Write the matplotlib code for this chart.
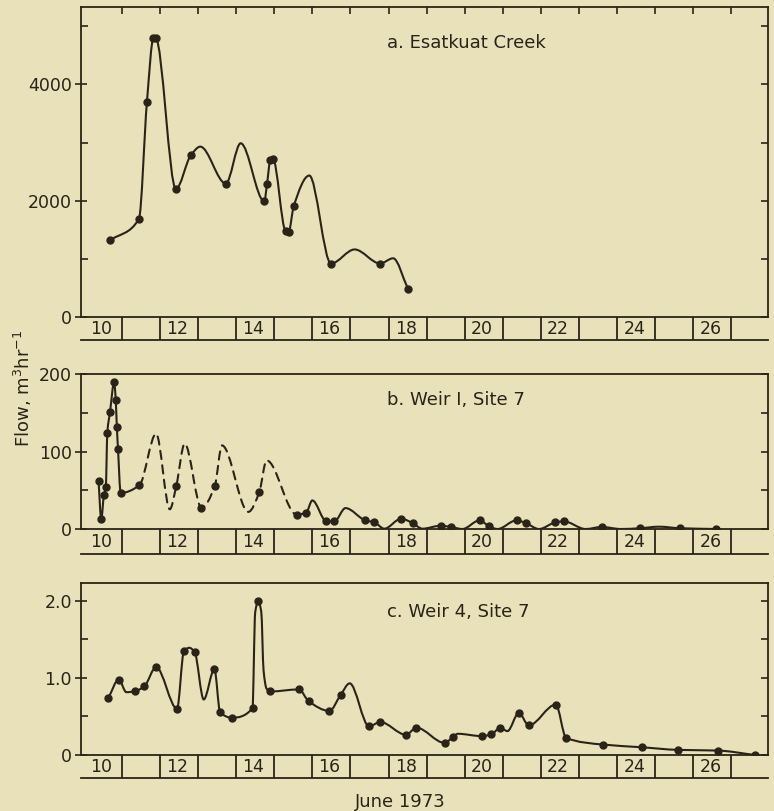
import numpy as np
import matplotlib
matplotlib.use("Agg")
import matplotlib.pyplot as plt
from matplotlib.path import Path
from matplotlib.patches import PathPatch
from matplotlib.ticker import MultipleLocator, FixedLocator, FixedFormatter

# ---- values: day of June 1973 -> flow (m3/hr) ----
# a. Esatkuat Creek, sampled points
a_obs_day = [10.69, 11.45, 11.66, 11.83, 11.89, 12.42, 12.81, 13.73, 14.74, 14.81,
             14.90, 14.97, 15.30, 15.38, 15.51, 16.49, 17.78, 18.51]
a_obs_flow = [1318, 1688, 3705, 4790, 4790, 2202, 2780, 2295, 1988, 2283,
              2700, 2710, 1480, 1470, 1902, 919, 920, 485]
# crests of the drawn trace with no sample on them
a_crest_day = [13.06, 14.12, 15.92, 17.11, 18.12]
a_crest_flow = [2930, 2988, 2433, 1162, 1010]

# b. Weir 1, Site 7
b_obs_day = [10.39, 10.46, 10.53, 10.58, 10.62, 10.69, 10.80, 10.84, 10.87, 10.90,
             10.97, 11.46, 12.43, 13.09, 13.44, 14.61, 15.59, 15.84, 16.37, 16.58,
             17.39, 17.63, 18.33, 18.63, 19.37, 19.64, 20.39, 20.64, 21.36, 21.60,
             22.38, 22.60, 23.60, 24.60, 25.65, 26.60]
b_obs_flow = [61.6, 12.6, 43.5, 54.2, 124.3, 150.8, 189.5, 167.1, 131.5, 103.6,
              46.5, 56.4, 55.6, 27.3, 55.6, 47.9, 18.5, 21.3, 9.9, 9.9,
              11.2, 8.6, 13.3, 7.7, 4.3, 2.6, 11.2, 3.4, 11.2, 7.7,
              8.6, 9.9, 2.6, 1.0, 1.0, 0.0]
b_crest_day = [11.90, 12.26, 12.65, 13.63, 14.32, 14.80, 16.00, 16.87, 17.89,
               18.89, 19.94, 20.86, 21.95, 23.17, 24.10, 25.10]
b_crest_flow = [123.0, 25.5, 110.1, 107.9, 22.1, 88.6, 36.9, 27.0, 0.4,
                0.4, 0.0, 0.0, 0.0, 0.0, 0.0, 3.0]
b_dashed = (11.46, 15.59)   # estimated stretch, drawn dashed

# c. Weir 4, Site 7
c_obs_day = [10.65, 10.92, 11.35, 11.59, 11.90, 12.45, 12.63, 12.91, 13.43, 13.58,
             13.89, 14.43, 14.58, 14.90, 15.65, 15.90, 16.45, 16.74, 17.49, 17.78,
             18.46, 18.73, 19.47, 19.69, 20.44, 20.70, 20.93, 21.42, 21.68, 22.39,
             22.66, 23.63, 24.65, 25.59, 26.65, 27.61]
c_obs_flow = [0.742, 0.980, 0.829, 0.890, 1.141, 0.600, 1.348, 1.340, 1.115, 0.556,
              0.483, 0.608, 1.994, 0.825, 0.851, 0.699, 0.572, 0.777, 0.371, 0.428,
              0.262, 0.354, 0.157, 0.231, 0.245, 0.266, 0.354, 0.546, 0.384, 0.655,
              0.223, 0.135, 0.100, 0.066, 0.057, 0.0]
c_crest_day = [11.12, 12.77, 13.15, 14.50, 14.66, 14.72, 14.80, 16.98, 19.82, 21.12]
c_crest_flow = [0.815, 1.392, 0.721, 1.85, 1.86, 1.10, 0.86, 0.930, 0.275, 0.31]

june_days = list(range(10, 28))
titles = ["a. Esatkuat Creek", "b. Weir I, Site 7", "c. Weir 4, Site 7"]

bg = "#e9e1ba"
ink = "#2a2418"
plt.rcParams["font.family"] = "DejaVu Sans"
plt.rcParams["font.size"] = 12


def slopes(x, y):
    # monotone (Fritsch-Carlson) tangents so the pen trace does not overshoot
    h = np.diff(x)
    d = np.diff(y) / h
    m = np.zeros_like(y)
    for k in range(1, len(x) - 1):
        if d[k - 1] * d[k] > 0:
            w1 = 2 * h[k] + h[k - 1]
            w2 = h[k] + 2 * h[k - 1]
            m[k] = (w1 + w2) / (w1 / d[k - 1] + w2 / d[k])
    m[0], m[-1] = d[0], d[-1]
    return m


def draw_trace(ax, x, y, m, i0, i1, **kw):
    verts = [(x[i0], y[i0])]
    codes = [Path.MOVETO]
    for k in range(i0, i1):
        h = x[k + 1] - x[k]
        verts += [(x[k] + h / 3, y[k] + m[k] * h / 3),
                  (x[k + 1] - h / 3, y[k + 1] - m[k + 1] * h / 3),
                  (x[k + 1], y[k + 1])]
        codes += [Path.CURVE4] * 3
    ax.add_patch(PathPatch(Path(verts, codes), fill=False, edgecolor=ink,
                           lw=1.5, capstyle="round", **kw))


def panel(rect, srect, obs_d, obs_f, crest_d, crest_f, ymax, major, minor,
          ylabels, title, title_y, top_ticks=False, dashed=None):
    ax = fig.add_axes(rect, facecolor="none")
    x = np.array(obs_d + crest_d, float)
    y = np.array(obs_f + crest_f, float)
    order = np.argsort(x)
    x, y = x[order], y[order]
    m = slopes(x, y)
    if dashed is None:
        draw_trace(ax, x, y, m, 0, len(x) - 1)
    else:
        i0 = int(np.argmin(abs(x - dashed[0])))
        i1 = int(np.argmin(abs(x - dashed[1])))
        draw_trace(ax, x, y, m, 0, i0)
        draw_trace(ax, x, y, m, i0, i1, linestyle=(0, (4, 3)))
        draw_trace(ax, x, y, m, i1, len(x) - 1)
    ax.plot(obs_d, obs_f, "o", ms=5, color=ink, zorder=3)

    ax.set_xlim(9.93, 27.96)
    ax.set_ylim(0, ymax)
    for s in ax.spines.values():
        s.set_linewidth(1.3)
        s.set_color(ink)

    tw = ax.twinx()
    tw.set_ylim(0, ymax)
    tw.yaxis.set_major_locator(MultipleLocator(minor))
    tw.tick_params(direction="in", length=5, width=1.2, color=ink, labelright=False)
    for s in tw.spines.values():
        s.set_visible(False)

    ax.yaxis.set_major_locator(FixedLocator([0, major, 2 * major]))
    ax.yaxis.set_major_formatter(FixedFormatter(ylabels))
    ax.yaxis.set_minor_locator(MultipleLocator(minor))
    ax.tick_params(axis="y", which="major", direction="inout", length=9, width=1.2,
                   color=ink, labelcolor=ink, labelsize=12.5, pad=2)
    ax.tick_params(axis="y", which="minor", direction="in", length=5, width=1.2,
                   color=ink)
    if top_ticks:
        ax.set_xticks(june_days[1:])
        ax.tick_params(axis="x", bottom=False, top=True, labelbottom=False,
                       direction="in", length=5, width=1.2, color=ink)
    else:
        ax.set_xticks([])
    ax.text(0.445, title_y, title, transform=ax.transAxes, ha="left",
            va="center", fontsize=13, color=ink)

    # date strip under the panel
    sx = fig.add_axes(srect, facecolor="none")
    sx.set_xlim(9.93, 27.96)
    sx.set_ylim(0, 1)
    for k in ["left", "right", "top"]:
        sx.spines[k].set_visible(False)
    sx.spines["bottom"].set_linewidth(1.3)
    sx.spines["bottom"].set_color(ink)
    sx.vlines(june_days[1:], 0, 1, color=ink, lw=1.3)
    for d in june_days[::2]:
        sx.text(d + 0.45, 0.48, str(d), ha="center", va="center",
                fontsize=12.5, color=ink)
    sx.set_xticks([])
    sx.set_yticks([])
    return ax


fig = plt.figure(figsize=(7.74, 8.11), dpi=100, facecolor=bg)

panel([0.1047, 0.6091, 0.8876, 0.3822], [0.1047, 0.5808, 0.8876, 0.0283],
      a_obs_day, a_obs_flow, a_crest_day, a_crest_flow, 5330, 2000, 1000,
      ["0", "2000", "4000"], titles[0], 0.884, top_ticks=True)
panel([0.1047, 0.3477, 0.8876, 0.1911], [0.1047, 0.3169, 0.8876, 0.0308],
      b_obs_day, b_obs_flow, b_crest_day, b_crest_flow, 200, 100, 50,
      ["0", "100", "200"], titles[1], 0.832, dashed=b_dashed)
panel([0.1047, 0.0691, 0.8876, 0.2117], [0.1047, 0.0407, 0.8876, 0.0284],
      c_obs_day, c_obs_flow, c_crest_day, c_crest_flow, 2.23, 1.0, 0.5,
      ["0", "1.0", "2.0"], titles[2], 0.833)

fig.text(0.030, 1 - 388 / 811, "Flow, m$^{3}$hr$^{-1}$", rotation=90,
         ha="center", va="center", fontsize=13, color=ink)
fig.text(400 / 774, 1 - 802 / 811, "June 1973", ha="center", va="center",
         fontsize=13, color=ink)

fig.savefig("out.png", dpi=100, facecolor=bg)
